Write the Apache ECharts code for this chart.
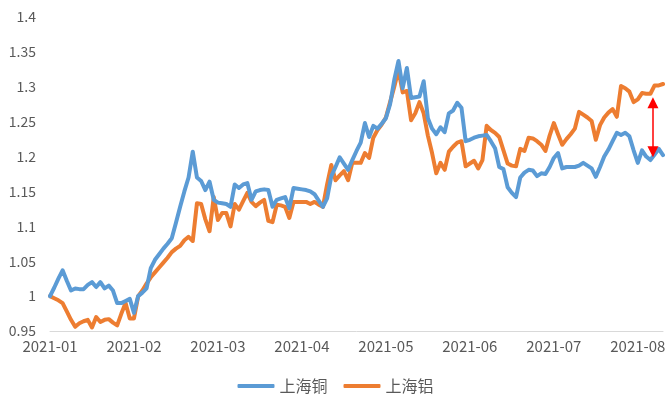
<!DOCTYPE html>
<html>
<head>
<meta charset="utf-8">
<script src="https://cdn.jsdelivr.net/npm/echarts@6/dist/echarts.min.js"></script>
<style>
  html, body { margin: 0; padding: 0; background: #fff; }
  #chart { width: 671px; height: 397px; }
</style>
</head>
<body>
<div id="chart"></div>
<script>
// 月份刻度, 每20个交易日一个
const monthLabels = ['2021-01', '2021-02', '2021-03', '2021-04', '2021-05', '2021-06', '2021-07', '2021-08'];
const labelStep = 20;

// 上海铜 (归一化)
const copper = [
  1.000, 1.012, 1.025, 1.037, 1.022, 1.008, 1.011, 1.010, 1.010, 1.016,
  1.020, 1.013, 1.020, 1.011, 1.015, 1.008, 0.990, 0.990, 0.993, 0.996,
  0.976, 1.000, 1.005, 1.011, 1.040, 1.052, 1.060, 1.068, 1.075, 1.083,
  1.105, 1.128, 1.150, 1.170, 1.207, 1.170, 1.165, 1.152, 1.164, 1.138,
  1.134, 1.133, 1.132, 1.128, 1.160, 1.155, 1.160, 1.162, 1.138, 1.150,
  1.152, 1.153, 1.152, 1.128, 1.138, 1.140, 1.142, 1.126, 1.155, 1.154,
  1.153, 1.152, 1.150, 1.146, 1.137, 1.128, 1.140, 1.172, 1.185, 1.199,
  1.190, 1.181, 1.195, 1.208, 1.220, 1.248, 1.228, 1.244, 1.240, 1.247,
  1.255, 1.275, 1.310, 1.337, 1.298, 1.327, 1.284, 1.285, 1.286, 1.308,
  1.255, 1.240, 1.232, 1.242, 1.235, 1.262, 1.266, 1.277, 1.270, 1.222,
  1.224, 1.227, 1.229, 1.230, 1.231, 1.222, 1.212, 1.185, 1.182, 1.156,
  1.148, 1.142, 1.170, 1.177, 1.181, 1.180, 1.172, 1.176, 1.175, 1.185,
  1.198, 1.205, 1.183, 1.185, 1.185, 1.185, 1.187, 1.191, 1.187, 1.183,
  1.171, 1.185, 1.200, 1.210, 1.222, 1.234, 1.231, 1.234, 1.229, 1.209,
  1.191, 1.209, 1.200, 1.195, 1.203, 1.211, 1.202
];

// 上海铝 (归一化)
const aluminium = [
  1.000, 0.997, 0.994, 0.990, 0.978, 0.966, 0.956, 0.961, 0.964, 0.966,
  0.955, 0.970, 0.963, 0.966, 0.967, 0.962, 0.958, 0.975, 0.990, 0.968,
  0.968, 1.000, 1.008, 1.018, 1.027, 1.034, 1.041, 1.048, 1.055, 1.063,
  1.068, 1.072, 1.080, 1.085, 1.079, 1.133, 1.132, 1.110, 1.093, 1.142,
  1.109, 1.119, 1.119, 1.100, 1.132, 1.124, 1.136, 1.148, 1.135, 1.129,
  1.134, 1.138, 1.108, 1.106, 1.131, 1.130, 1.128, 1.112, 1.135, 1.135,
  1.135, 1.135, 1.132, 1.135, 1.131, 1.128, 1.160, 1.188, 1.166, 1.173,
  1.179, 1.166, 1.191, 1.191, 1.191, 1.205, 1.198, 1.227, 1.238, 1.246,
  1.256, 1.278, 1.300, 1.324, 1.292, 1.294, 1.252, 1.262, 1.278, 1.262,
  1.230, 1.205, 1.176, 1.191, 1.181, 1.207, 1.214, 1.220, 1.222, 1.186,
  1.190, 1.194, 1.183, 1.195, 1.244, 1.238, 1.234, 1.228, 1.209, 1.190,
  1.187, 1.186, 1.211, 1.208, 1.227, 1.226, 1.222, 1.217, 1.208, 1.230,
  1.248, 1.232, 1.217, 1.225, 1.232, 1.240, 1.264, 1.260, 1.256, 1.251,
  1.224, 1.245, 1.256, 1.263, 1.268, 1.257, 1.301, 1.298, 1.293, 1.278,
  1.282, 1.291, 1.290, 1.290, 1.302, 1.302, 1.304
];

// 红色双箭头: 铜铝价差
const gapDay = 143.6;
const gapRange = [1.207, 1.277];

const toPairs = arr => arr.map((v, i) => [i, v]);

const chart = echarts.init(document.getElementById('chart'));

chart.setOption({
  animation: false,
  textStyle: { fontFamily: '"Noto Sans CJK SC", "Liberation Sans", sans-serif' },
  grid: { left: 50, right: 8, top: 17, bottom: 66 },
  legend: {
    top: 373,
    left: 'center',
    icon: 'roundRect',
    itemWidth: 37,
    itemHeight: 4,
    itemGap: 16,
    textStyle: { color: '#595959', fontSize: 16 },
    data: ['上海铜', '上海铝']
  },
  xAxis: {
    type: 'value',
    min: 0,
    max: copper.length - 1,
    interval: labelStep,
    axisLine: { lineStyle: { color: '#d9d9d9', width: 1 } },
    axisTick: { show: false },
    splitLine: { show: false },
    axisLabel: {
      color: '#595959',
      fontSize: 15,
      margin: 8,
      showMaxLabel: false,
      formatter: v => (v % labelStep === 0 ? monthLabels[v / labelStep] || '' : '')
    }
  },
  yAxis: {
    type: 'value',
    min: 0.95,
    max: 1.4,
    interval: 0.05,
    axisLine: { show: false },
    axisTick: { show: false },
    splitLine: { show: false },
    axisLabel: {
      color: '#595959',
      fontSize: 14,
      margin: 14,
      formatter: v => String(+v.toFixed(2))
    }
  },
  series: [
    {
      name: '上海铜',
      type: 'line',
      symbol: 'none',
      color: '#5b9bd5',
      lineStyle: { width: 4, cap: 'round', join: 'round' },
      data: toPairs(copper),
      z: 3
    },
    {
      name: '上海铝',
      type: 'line',
      symbol: 'none',
      color: '#ed7d31',
      lineStyle: { width: 4, cap: 'round', join: 'round' },
      data: toPairs(aluminium),
      z: 2,
      markLine: {
        silent: true,
        symbol: ['triangle', 'triangle'],
        symbolSize: [11, 11],
        label: { show: false },
        lineStyle: { color: '#ff0000', width: 1.5, type: 'solid' },
        data: [[
          { coord: [gapDay, gapRange[1]] },
          { coord: [gapDay, gapRange[0]] }
        ]]
      }
    }
  ]
});
</script>
</body>
</html>
